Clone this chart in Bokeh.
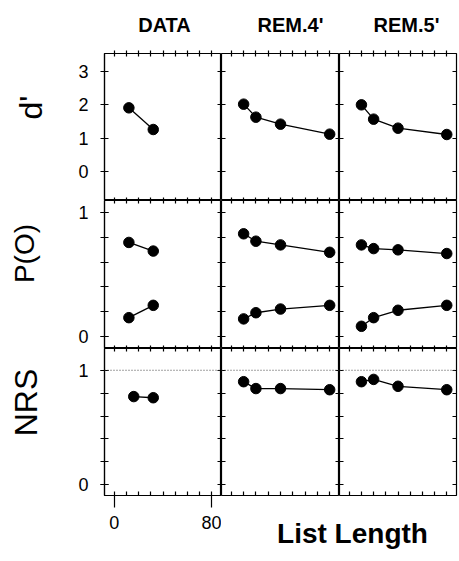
from bokeh.plotting import figure
from bokeh.models import Range1d, LinearAxis, FixedTicker, Span, Label
from bokeh.layouts import gridplot, column, row
from bokeh.embed import file_html
from bokeh.resources import INLINE

FONT = "Liberation Sans"

# ---------------- data ----------------
column_titles = ["DATA", "REM.4'", "REM.5'"]
row_titles = ["d'", "P(O)", "NRS"]
x_title = "List Length"

data_lengths = [12, 32]
data_lengths_nrs = [16, 32]
model_lengths = [10, 20, 40, 80]

dprime_data = [1.91, 1.26]
dprime_rem4 = [2.02, 1.63, 1.42, 1.12]
dprime_rem5 = [2.00, 1.57, 1.30, 1.11]

pold_targets_data = [0.76, 0.69]
pold_foils_data = [0.15, 0.25]
pold_targets_rem4 = [0.83, 0.77, 0.74, 0.68]
pold_foils_rem4 = [0.14, 0.19, 0.22, 0.25]
pold_targets_rem5 = [0.74, 0.71, 0.70, 0.67]
pold_foils_rem5 = [0.08, 0.15, 0.21, 0.25]

nrs_data = [0.77, 0.76]
nrs_rem4 = [0.90, 0.84, 0.84, 0.83]
nrs_rem5 = [0.90, 0.92, 0.86, 0.83]
nrs_reference = 1.0

x_major_ticks = [0, 80]
x_minor_ticks = [0, 10, 20, 30, 40, 50, 60, 70, 80]
dprime_ticks = [0, 1, 2, 3]
prob_major_ticks = [0, 1]
prob_minor_ticks = [0, 0.2, 0.4, 0.6, 0.8, 1.0]

x_limits = (-8, 88)
y_limits = [(-0.87, 3.54), (-0.1, 1.1), (-0.094, 1.19)]

panel_series = {
    (0, 0): [(data_lengths, dprime_data)],
    (0, 1): [(model_lengths, dprime_rem4)],
    (0, 2): [(model_lengths, dprime_rem5)],
    (1, 0): [(data_lengths, pold_targets_data), (data_lengths, pold_foils_data)],
    (1, 1): [(model_lengths, pold_targets_rem4), (model_lengths, pold_foils_rem4)],
    (1, 2): [(model_lengths, pold_targets_rem5), (model_lengths, pold_foils_rem5)],
    (2, 0): [(data_lengths_nrs, nrs_data)],
    (2, 1): [(model_lengths, nrs_rem4)],
    (2, 2): [(model_lengths, nrs_rem5)],
}

# ---------------- layout (pixels) ----------------
FRAME_W = [117, 118, 117]
FRAME_H = [147, 148, 147]
SIDE_W = 60            # strip holding the rotated row labels
HEAD_H = 45            # strip holding the column headers
LEFT_BORDER = 44
RIGHT_BORDER = 2
TOP_BORDER = 8
BOTTOM_BORDER = 40
FOOT_H = 40
FOOT_OVERLAP = 19

GRID_W = LEFT_BORDER + sum(FRAME_W) + RIGHT_BORDER
GRID_H = TOP_BORDER + sum(FRAME_H) + BOTTOM_BORDER
TOTAL_H = HEAD_H + GRID_H + FOOT_H - FOOT_OVERLAP

# text placement (page pixels, from top-left)
header_pos = [(164, 24), (290, 24), (406, 24)]
row_label_pos = [(30, 107), (24, 253), (25, 402)]
row_label_size = ["32px", "28px", "32px"]
footer_pos = (352, 533)


def text_strip(w, h, margin=None):
    kw = {} if margin is None else {"margin": margin}
    f = figure(width=w, height=h, x_range=Range1d(0, w), y_range=Range1d(h, 0),
               x_axis_location=None, y_axis_location=None, title=None,
               output_backend="svg", toolbar_location=None, min_border=0,
               outline_line_color=None, background_fill_alpha=0, border_fill_alpha=0, **kw)
    f.grid.visible = False
    return f


def make_axis(ticker, tin, tout, mtin, mtout, standoff=0, line=True):
    ax = LinearAxis(ticker=ticker)
    ax.axis_line_color = "black" if line else None
    ax.axis_line_width = 1.2
    ax.major_tick_in = tin
    ax.major_tick_out = tout
    ax.minor_tick_in = mtin
    ax.minor_tick_out = mtout
    ax.major_tick_line_color = "black"
    ax.minor_tick_line_color = "black"
    ax.major_tick_line_width = 1.2
    ax.minor_tick_line_width = 1.2
    ax.major_label_text_font = FONT
    ax.major_label_text_font_size = "18px"
    ax.major_label_text_color = "black"
    ax.major_label_standoff = standoff
    return ax


def x_labelled_ticker():
    return FixedTicker(ticks=x_major_ticks, minor_ticks=x_minor_ticks)


def x_plain_ticker():
    return FixedTicker(ticks=[], minor_ticks=x_minor_ticks)


def y_labelled_ticker(r):
    if r == 0:
        return FixedTicker(ticks=dprime_ticks, minor_ticks=[])
    return FixedTicker(ticks=prob_major_ticks, minor_ticks=prob_minor_ticks)


def y_plain_ticker(r):
    if r == 0:
        return FixedTicker(ticks=[], minor_ticks=dprime_ticks)
    return FixedTicker(ticks=[], minor_ticks=prob_minor_ticks)


grid = []
for r in range(3):
    cells = []
    for c in range(3):
        p = figure(
            frame_width=FRAME_W[c], frame_height=FRAME_H[r],
            x_range=Range1d(*x_limits), y_range=Range1d(*y_limits[r]),
            x_axis_location=None, y_axis_location=None, title=None,
            output_backend="svg", toolbar_location=None,
            min_border_left=(LEFT_BORDER if c == 0 else 0),
            min_border_right=(RIGHT_BORDER if c == 2 else 0),
            min_border_top=(TOP_BORDER if r == 0 else 0),
            min_border_bottom=(BOTTOM_BORDER if r == 2 else 0),
            background_fill_color="white", border_fill_alpha=0,
            outline_line_color="black", outline_line_width=1.2,
        )
        p.grid.visible = False

        if c == 0:
            p.add_layout(make_axis(y_labelled_ticker(r), 4, 4, 4, 4, standoff=12), "left")
        else:
            p.add_layout(make_axis(y_plain_ticker(r), 0, 0, 4, 0, line=False), "left")
        p.add_layout(make_axis(y_plain_ticker(r), 0, 0, 4, 0, line=False), "right")
        p.add_layout(make_axis(x_plain_ticker(), 0, 0, 3, 3 if r == 0 else 0, line=False), "above")
        if r == 2 and c == 0:
            p.add_layout(make_axis(x_labelled_ticker(), 0, 12, 4, 0, standoff=8), "below")
        else:
            p.add_layout(make_axis(x_plain_ticker(), 0, 0, 3 if r < 2 else 4, 0, line=False), "below")

        if r == 2:
            p.add_layout(Span(location=nrs_reference, dimension="width",
                              line_color="#444444", line_width=1, line_dash="1 2"))

        for xs, ys in panel_series[(r, c)]:
            p.line(xs, ys, line_color="black", line_width=1.3)
            p.scatter(xs, ys, size=10.5, marker="circle", fill_color="black", line_color="black")
        cells.append(p)
    grid.append(cells)

g = gridplot(grid, toolbar_location=None)

# column headers
header = text_strip(GRID_W, HEAD_H)
for (hx, hy), txt in zip(header_pos, column_titles):
    header.add_layout(Label(x=hx - SIDE_W, y=hy, text=txt, text_align="center", text_baseline="middle",
                            text_font=FONT, text_font_size="20px", text_font_style="bold",
                            text_color="black"))

# x-axis title
footer = text_strip(GRID_W, FOOT_H, margin=(-FOOT_OVERLAP, 0, 0, 0))
footer.add_layout(Label(x=footer_pos[0] - SIDE_W, y=footer_pos[1] - (HEAD_H + GRID_H - FOOT_OVERLAP),
                        text=x_title, text_align="center", text_baseline="middle",
                        text_font=FONT, text_font_size="28px", text_font_style="bold",
                        text_color="black"))

# rotated row labels
side = text_strip(SIDE_W, TOTAL_H)
for (lx, ly), txt, size in zip(row_label_pos, row_titles, row_label_size):
    side.add_layout(Label(x=lx, y=ly, text=txt, angle=90, angle_units="deg",
                          text_align="center", text_baseline="middle",
                          text_font=FONT, text_font_size=size, text_color="black"))

layout = row(side, column(header, g, footer))

with open("out.html", "w") as f:
    f.write(file_html(layout, INLINE))
